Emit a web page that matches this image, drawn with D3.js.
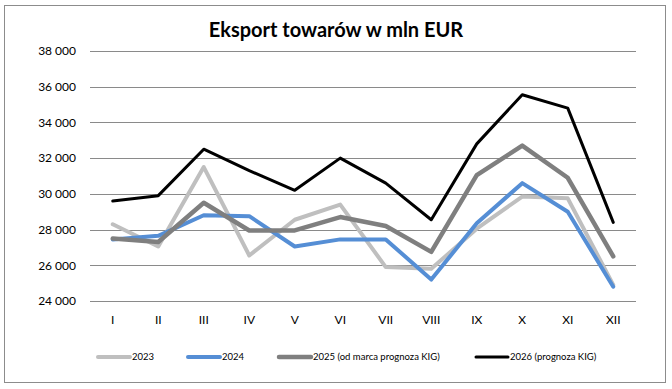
<!DOCTYPE html>
<html>
<head>
<meta charset="utf-8">
<script src="https://cdn.jsdelivr.net/npm/d3@7"></script>
<style>
  body { margin: 0; background: #fff; }
  text { font-family: Lato, "Open Sans", sans-serif; fill: #000; }
</style>
</head>
<body>
<div id="chart"></div>
<script>
"use strict";

/* chart values */
const MONTHS = ["I", "II", "III", "IV", "V", "VI", "VII", "VIII", "IX", "X", "XI", "XII"];
const Y_TICKS = [24000, 26000, 28000, 30000, 32000, 34000, 36000, 38000];
const SERIES_NAMES = ["2023", "2024", "2025 (od marca prognoza KIG)", "2026 (prognoza KIG)"];
const V2023 = [28300, 27050, 31500, 26550, 28550, 29400, 25900, 25800, 28050, 29850, 29750, 24900];
const V2024 = [27450, 27650, 28800, 28750, 27050, 27450, 27450, 25200, 28350, 30600, 29000, 24800];
const V2025 = [27500, 27300, 29500, 27950, 27950, 28700, 28200, 26750, 31050, 32700, 30900, 26500];
const V2026 = [29600, 29900, 32500, 31300, 30200, 32000, 30600, 28550, 32800, 35550, 34800, 28400];

const COLORS = ["#bfbfbf", "#558ed5", "#7f7f7f", "#000000"];
const WIDTHS = [4, 4, 4.5, 3];

const W = 672, H = 389;
const svg = d3.select("#chart").append("svg")
  .attr("width", W)
  .attr("height", H);

// outer frame
svg.append("rect")
  .attr("x", 4.5).attr("y", 5.5)
  .attr("width", 661).attr("height", 377)
  .attr("fill", "#fff")
  .attr("stroke", "#8c8c8c");

svg.append("text")
  .attr("x", 336).attr("y", 37)
  .attr("text-anchor", "middle")
  .style("font-size", "20px")
  .style("font-weight", "bold")
  .text("Eksport towarów w mln EUR");

const x = d3.scaleBand().domain(MONTHS).range([90, 636]);
const y = d3.scaleLinear().domain([24000, 38000]).range([301, 51]);

const fmt = v => d3.format(",")(v).replace(",", " ");

// gridlines + y labels
const yAxis = d3.axisLeft(y).tickValues(Y_TICKS).tickSize(-546).tickFormat(fmt).tickPadding(14);
const gy = svg.append("g").attr("transform", "translate(90,0)").call(yAxis);
gy.select(".domain").remove();
gy.selectAll("line").attr("stroke", "#8a8a8a").attr("shape-rendering", "crispEdges");
gy.selectAll("text").style("font-size", "12px").style("fill", "#000");

// month labels
const xAxis = d3.axisBottom(x).tickSize(0).tickPadding(14);
const gx = svg.append("g").attr("transform", "translate(0,301)").call(xAxis);
gx.select(".domain").remove();
gx.selectAll("text").style("font-size", "12px").style("fill", "#000");

const line = d3.line()
  .x((d, i) => x(MONTHS[i]) + x.bandwidth() / 2)
  .y(d => y(d));

const allSeries = [V2023, V2024, V2025, V2026];
svg.append("g").selectAll("path")
  .data(allSeries)
  .enter()
  .append("path")
  .attr("d", line)
  .attr("fill", "none")
  .attr("stroke", (d, i) => COLORS[i])
  .attr("stroke-width", (d, i) => WIDTHS[i])
  .attr("stroke-linejoin", "round")
  .attr("stroke-linecap", "round");

// legend
const LEGEND_X = [98, 188, 279, 476];
const legend = svg.append("g").selectAll("g")
  .data(SERIES_NAMES)
  .enter()
  .append("g")
  .attr("transform", (d, i) => `translate(${LEGEND_X[i]},357)`);
legend.append("line")
  .attr("x1", 0).attr("x2", 32)
  .attr("stroke", (d, i) => COLORS[i])
  .attr("stroke-width", (d, i) => WIDTHS[i])
  .attr("stroke-linecap", "round");
legend.append("text")
  .attr("x", 34).attr("dy", "0.35em")
  .style("font-size", "9.5px")
  .text(d => d);
</script>
</body>
</html>
